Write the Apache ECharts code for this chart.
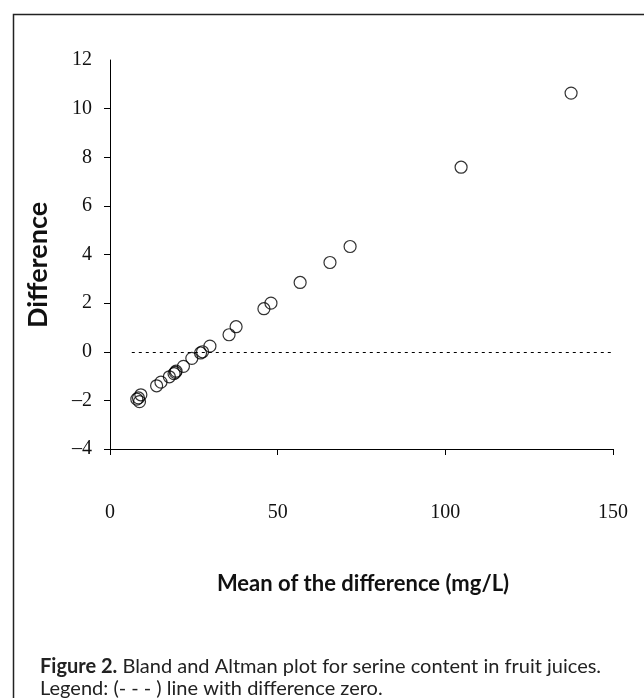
<!DOCTYPE html>
<html>
<head>
<meta charset="utf-8">
<script src="https://cdn.jsdelivr.net/npm/echarts@6/dist/echarts.min.js"></script>
<style>
  html, body { margin: 0; padding: 0; background: #fff; }
  #chart { width: 644px; height: 698px; }
</style>
</head>
<body>
<div id="chart"></div>
<script>
  // mean of the two methods (mg/L)
  var meanValues = [8.0, 8.5, 8.8, 9.2, 13.9, 15.2, 17.7, 19.1, 19.7, 19.5, 21.9, 24.4, 27.0, 27.6, 29.8, 35.5, 37.6, 45.9, 48.0, 56.7, 65.6, 71.6, 104.7, 137.5];
  // difference between methods
  var diffValues = [-1.95, -1.9, -2.05, -1.77, -1.4, -1.25, -1.03, -0.9, -0.8, -0.85, -0.6, -0.27, -0.05, 0.0, 0.23, 0.7, 1.03, 1.77, 2.0, 2.85, 3.67, 4.33, 7.59, 10.64];
  // dashed zero line (start / end of the mean axis)
  var zeroLine = [6.5, 150];
  // y ticks (none drawn at the top end of the axis)
  var yTicks = [-4, -2, 0, 2, 4, 6, 8, 10];

  var points = meanValues.map(function (m, i) { return [m, diffValues[i]]; });

  var myChart = echarts.init(document.getElementById('chart'));
  var tickFont = { fontFamily: 'Liberation Serif', fontSize: 20, color: '#111' };

  myChart.setOption({
    animation: false,
    backgroundColor: '#fff',
    grid: { left: 110, right: 31, top: 60, bottom: 249, containLabel: false },
    xAxis: {
      type: 'value', min: 0, max: 150, interval: 50,
      axisLine: { onZero: false, lineStyle: { color: '#000', width: 1 } },
      axisTick: { show: true, length: 6, lineStyle: { color: '#000' } },
      axisLabel: Object.assign({ margin: 54 }, tickFont),
      splitLine: { show: false }
    },
    yAxis: {
      type: 'value', min: -4, max: 12, interval: 2,
      axisLine: { show: true, onZero: false, lineStyle: { color: '#000', width: 1 } },
      axisTick: { show: true, length: 6, customValues: yTicks, lineStyle: { color: '#000' } },
      axisLabel: Object.assign({
        margin: 18,
        formatter: function (v) { return String(v).replace('-', '\u2013'); }
      }, tickFont),
      splitLine: { show: false }
    },
    series: [
      {
        type: 'scatter',
        data: points,
        symbol: 'circle',
        symbolSize: 12,
        itemStyle: { color: 'rgba(255,255,255,0)', borderColor: '#000', borderWidth: 1.2 },
        markLine: {
          silent: true,
          symbol: 'none',
          label: { show: false },
          lineStyle: { color: '#000', width: 1, type: [3, 4] },
          data: [[{ coord: [zeroLine[0], 0] }, { coord: [zeroLine[1], 0] }]]
        }
      }
    ],
    graphic: [
      // frame round the figure
      { type: 'rect', left: 11, top: 12, shape: { width: 660, height: 720 },
        style: { fill: 'none', stroke: '#222', lineWidth: 1.5 }, z: -1 },
      { type: 'text', x: 363, y: 584,
        style: { text: 'Mean of the difference (mg/L)', font: 'bold 22px Lato', fill: '#111', align: 'center', verticalAlign: 'middle' } },
      { type: 'text', x: 38, y: 265, rotation: Math.PI / 2,
        style: { text: 'Difference', font: 'bold 27px Lato', fill: '#111', align: 'center', verticalAlign: 'middle' } },
      { type: 'text', left: 40, top: 656,
        style: {
          text: '{b|Figure 2.} Bland and Altman plot for serine content in fruit juices.\nLegend: (- - - ) line with difference zero.',
          font: '20px Lato', fill: '#222', lineHeight: 22,
          rich: { b: { font: 'bold 20px Lato', fill: '#222' } }
        } }
    ]
  });
</script>
</body>
</html>
